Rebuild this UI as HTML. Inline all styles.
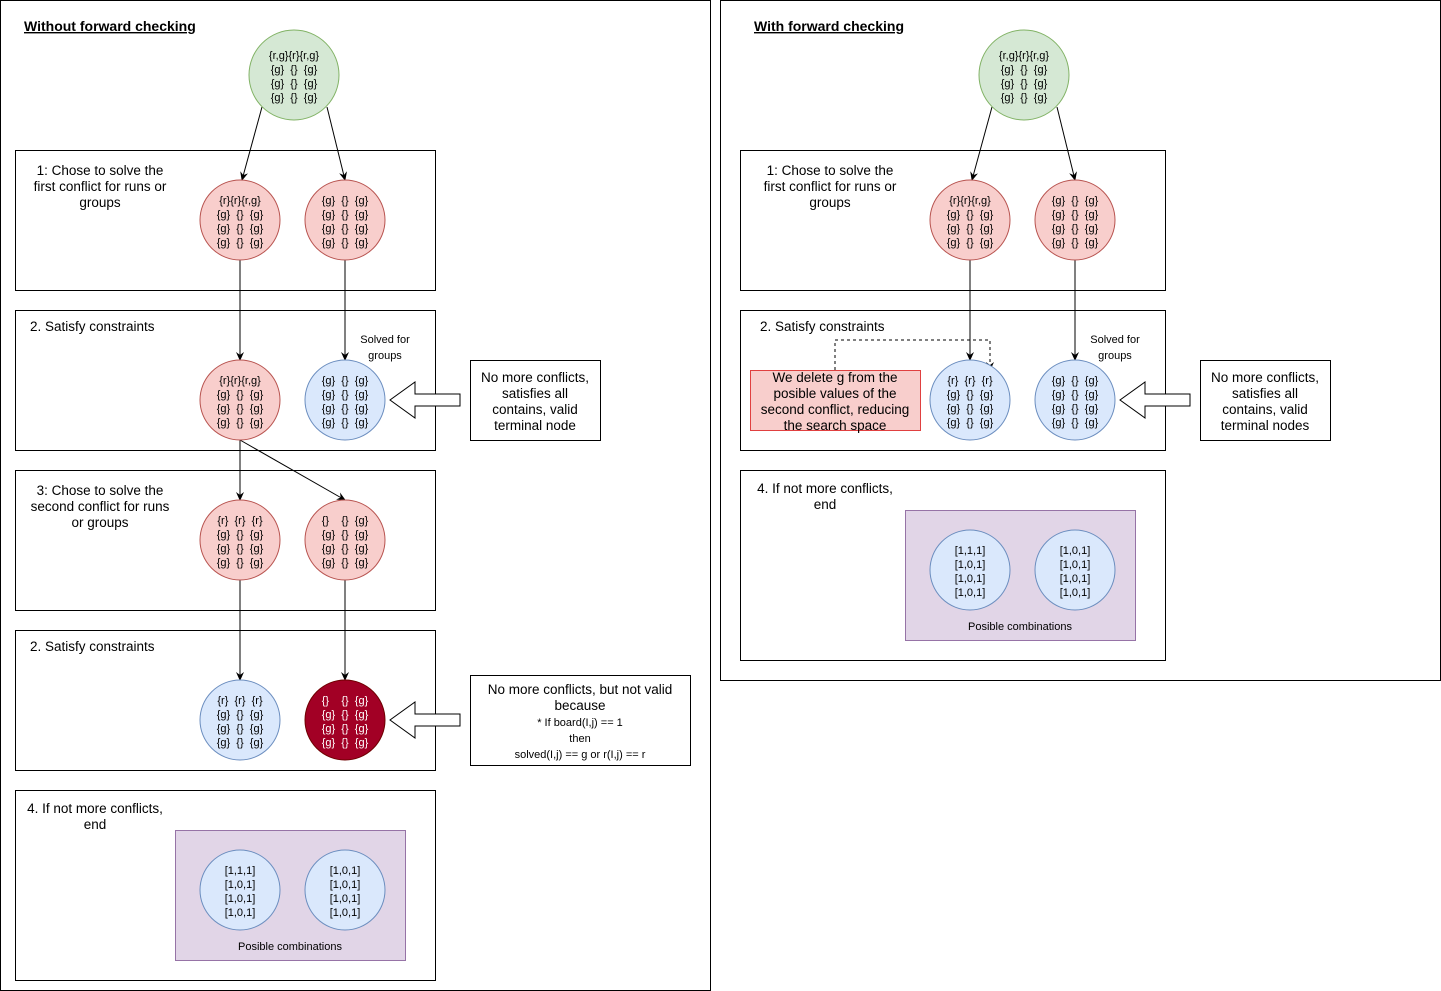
<!DOCTYPE html>
<html><head><meta charset="utf-8"><style>
html,body{margin:0;padding:0;background:#fff}
svg{display:block;font-family:"Liberation Sans",Arial,sans-serif}
svg text{white-space:pre}
.c{font-size:11px;text-anchor:middle}
.t{font-size:13.5px;text-anchor:middle}
.s{font-size:11px;text-anchor:middle}
</style></head><body>
<svg width="1441" height="991" viewBox="0 0 1441 991" xmlns="http://www.w3.org/2000/svg">
<defs>
<marker id="a" markerWidth="10" markerHeight="10" refX="8" refY="5" orient="auto" markerUnits="userSpaceOnUse"><path d="M0,1 L9,5 L0,9 L3,5 Z" fill="#000"/></marker>
</defs>
<g fill="none" stroke="#000" stroke-width="1">
<rect x="0.5" y="0.5" width="710" height="990"/>
<rect x="720.5" y="0.5" width="720" height="680"/>
<rect x="15.5" y="150.5" width="420" height="140"/>
<rect x="15.5" y="310.5" width="420" height="140"/>
<rect x="15.5" y="470.5" width="420" height="140"/>
<rect x="15.5" y="630.5" width="420" height="140"/>
<rect x="15.5" y="790.5" width="420" height="190"/>
<rect x="740.5" y="150.5" width="425" height="140"/>
<rect x="740.5" y="310.5" width="425" height="140"/>
<rect x="740.5" y="470.5" width="425" height="190"/>
<rect x="470.5" y="360.5" width="130" height="80"/>
<rect x="470.5" y="675.5" width="220" height="90"/>
<rect x="1200.5" y="360.5" width="130" height="80"/>
</g>
<rect x="175.5" y="830.5" width="230" height="130" fill="#e1d5e7" stroke="#9673a6"/>
<rect x="905.5" y="510.5" width="230" height="130" fill="#e1d5e7" stroke="#9673a6"/>
<rect x="750.5" y="370.5" width="170" height="60" fill="#f8cecc" stroke="#e04040"/>

<text x="24" y="31" font-size="14" font-weight="bold" text-decoration="underline">Without forward checking</text>
<text x="754" y="31" font-size="14" font-weight="bold" text-decoration="underline">With forward checking</text>

<g class="t">
<text x="100" y="175">1: Chose to solve the</text><text x="100" y="191">first conflict for runs or</text><text x="100" y="207">groups</text>
<text x="830" y="175">1: Chose to solve the</text><text x="830" y="191">first conflict for runs or</text><text x="830" y="207">groups</text>
<text x="100" y="495">3: Chose to solve the</text><text x="100" y="511">second conflict for runs</text><text x="100" y="527">or groups</text>
<text x="95" y="813">4. If not more conflicts,</text><text x="95" y="829">end</text>
<text x="825" y="493">4. If not more conflicts,</text><text x="825" y="509">end</text>
<text x="535" y="382">No more conflicts,</text><text x="535" y="398">satisfies all</text><text x="535" y="414">contains, valid</text><text x="535" y="430">terminal node</text>
<text x="1265" y="382">No more conflicts,</text><text x="1265" y="398">satisfies all</text><text x="1265" y="414">contains, valid</text><text x="1265" y="430">terminal nodes</text>
<text x="580" y="694">No more conflicts, but not valid</text><text x="580" y="710">because</text>
<text x="835" y="382">We delete g from the</text><text x="835" y="398">posible values of the</text><text x="835" y="414">second conflict, reducing</text><text x="835" y="430">the search space</text>
</g>
<text x="30" y="331" font-size="13.5">2. Satisfy constraints</text>
<text x="30" y="651" font-size="13.5">2. Satisfy constraints</text>
<text x="760" y="331" font-size="13.5">2. Satisfy constraints</text>
<g class="s">
<text x="580" y="726">* If board(I,j) == 1</text><text x="580" y="742">then</text><text x="580" y="758">solved(I,j) == g or r(I,j) == r</text>
<text x="385" y="343">Solved for</text><text x="385" y="359">groups</text>
<text x="1115" y="343">Solved for</text><text x="1115" y="359">groups</text>
<text x="290" y="950">Posible combinations</text>
<text x="1020" y="630">Posible combinations</text>
</g>

<g stroke="#000" fill="none" marker-end="url(#a)">
<line x1="262" y1="107" x2="242" y2="180"/>
<line x1="327" y1="107" x2="345" y2="180"/>
<line x1="240" y1="260" x2="240" y2="360"/>
<line x1="345" y1="260" x2="345" y2="360"/>
<line x1="240" y1="440" x2="240" y2="500"/>
<line x1="240" y1="440" x2="345" y2="500"/>
<line x1="240" y1="580" x2="240" y2="680"/>
<line x1="345" y1="580" x2="345" y2="680"/>
<line x1="992" y1="107" x2="972" y2="180"/>
<line x1="1057" y1="107" x2="1075" y2="180"/>
<line x1="970" y1="260" x2="970" y2="360"/>
<line x1="1075" y1="260" x2="1075" y2="360"/>
<polyline points="835,370 835,340 990,340 990,370" stroke-dasharray="3,3"/>
</g>
<g fill="#fff" stroke="#000">
<path d="M460,394 L415,394 L415,382 L390,400 L415,418 L415,406 L460,406 Z"/>
<path d="M460,714 L415,714 L415,702 L390,720 L415,738 L415,726 L460,726 Z"/>
<path d="M1190,394 L1145,394 L1145,382 L1120,400 L1145,418 L1145,406 L1190,406 Z"/>
</g>

<g stroke-width="1">
<circle cx="294" cy="75" r="45" fill="#d5e8d4" stroke="#82b366"/>
<circle cx="1024" cy="75" r="45" fill="#d5e8d4" stroke="#82b366"/>
<circle cx="240" cy="220" r="40" fill="#f8cecc" stroke="#b85450"/>
<circle cx="345" cy="220" r="40" fill="#f8cecc" stroke="#b85450"/>
<circle cx="970" cy="220" r="40" fill="#f8cecc" stroke="#b85450"/>
<circle cx="1075" cy="220" r="40" fill="#f8cecc" stroke="#b85450"/>
<circle cx="240" cy="400" r="40" fill="#f8cecc" stroke="#b85450"/>
<circle cx="345" cy="400" r="40" fill="#dae8fc" stroke="#6c8ebf"/>
<circle cx="970" cy="400" r="40" fill="#dae8fc" stroke="#6c8ebf"/>
<circle cx="1075" cy="400" r="40" fill="#dae8fc" stroke="#6c8ebf"/>
<circle cx="240" cy="540" r="40" fill="#f8cecc" stroke="#b85450"/>
<circle cx="345" cy="540" r="40" fill="#f8cecc" stroke="#b85450"/>
<circle cx="240" cy="720" r="40" fill="#dae8fc" stroke="#6c8ebf"/>
<circle cx="345" cy="720" r="40" fill="#a20025" stroke="#6f0000"/>
<circle cx="240" cy="890" r="40" fill="#dae8fc" stroke="#6c8ebf"/>
<circle cx="345" cy="890" r="40" fill="#dae8fc" stroke="#6c8ebf"/>
<circle cx="970" cy="570" r="40" fill="#dae8fc" stroke="#6c8ebf"/>
<circle cx="1075" cy="570" r="40" fill="#dae8fc" stroke="#6c8ebf"/>
</g>
<g class="c">
<text x="294" y="59">{r,g}{r}{r,g}</text><text x="294" y="73">{g}  {}  {g}</text><text x="294" y="87">{g}  {}  {g}</text><text x="294" y="101">{g}  {}  {g}</text>
<text x="1024" y="59">{r,g}{r}{r,g}</text><text x="1024" y="73">{g}  {}  {g}</text><text x="1024" y="87">{g}  {}  {g}</text><text x="1024" y="101">{g}  {}  {g}</text>
<text x="240" y="204">{r}{r}{r,g}</text><text x="240" y="218">{g}  {}  {g}</text><text x="240" y="232">{g}  {}  {g}</text><text x="240" y="246">{g}  {}  {g}</text>
<text x="345" y="204">{g}  {}  {g}</text><text x="345" y="218">{g}  {}  {g}</text><text x="345" y="232">{g}  {}  {g}</text><text x="345" y="246">{g}  {}  {g}</text>
<text x="970" y="204">{r}{r}{r,g}</text><text x="970" y="218">{g}  {}  {g}</text><text x="970" y="232">{g}  {}  {g}</text><text x="970" y="246">{g}  {}  {g}</text>
<text x="1075" y="204">{g}  {}  {g}</text><text x="1075" y="218">{g}  {}  {g}</text><text x="1075" y="232">{g}  {}  {g}</text><text x="1075" y="246">{g}  {}  {g}</text>
<text x="240" y="384">{r}{r}{r,g}</text><text x="240" y="398">{g}  {}  {g}</text><text x="240" y="412">{g}  {}  {g}</text><text x="240" y="426">{g}  {}  {g}</text>
<text x="345" y="384">{g}  {}  {g}</text><text x="345" y="398">{g}  {}  {g}</text><text x="345" y="412">{g}  {}  {g}</text><text x="345" y="426">{g}  {}  {g}</text>
<text x="970" y="384">{r}  {r}  {r}</text><text x="970" y="398">{g}  {}  {g}</text><text x="970" y="412">{g}  {}  {g}</text><text x="970" y="426">{g}  {}  {g}</text>
<text x="1075" y="384">{g}  {}  {g}</text><text x="1075" y="398">{g}  {}  {g}</text><text x="1075" y="412">{g}  {}  {g}</text><text x="1075" y="426">{g}  {}  {g}</text>
<text x="240" y="524">{r}  {r}  {r}</text><text x="240" y="538">{g}  {}  {g}</text><text x="240" y="552">{g}  {}  {g}</text><text x="240" y="566">{g}  {}  {g}</text>
<text x="345" y="524">{}    {}  {g}</text><text x="345" y="538">{g}  {}  {g}</text><text x="345" y="552">{g}  {}  {g}</text><text x="345" y="566">{g}  {}  {g}</text>
<text x="240" y="704">{r}  {r}  {r}</text><text x="240" y="718">{g}  {}  {g}</text><text x="240" y="732">{g}  {}  {g}</text><text x="240" y="746">{g}  {}  {g}</text>
<g fill="#fff"><text x="345" y="704">{}    {}  {g}</text><text x="345" y="718">{g}  {}  {g}</text><text x="345" y="732">{g}  {}  {g}</text><text x="345" y="746">{g}  {}  {g}</text></g>
<text x="240" y="874">[1,1,1]</text><text x="240" y="888">[1,0,1]</text><text x="240" y="902">[1,0,1]</text><text x="240" y="916">[1,0,1]</text>
<text x="345" y="874">[1,0,1]</text><text x="345" y="888">[1,0,1]</text><text x="345" y="902">[1,0,1]</text><text x="345" y="916">[1,0,1]</text>
<text x="970" y="554">[1,1,1]</text><text x="970" y="568">[1,0,1]</text><text x="970" y="582">[1,0,1]</text><text x="970" y="596">[1,0,1]</text>
<text x="1075" y="554">[1,0,1]</text><text x="1075" y="568">[1,0,1]</text><text x="1075" y="582">[1,0,1]</text><text x="1075" y="596">[1,0,1]</text>
</g>
</svg>
</body></html>
